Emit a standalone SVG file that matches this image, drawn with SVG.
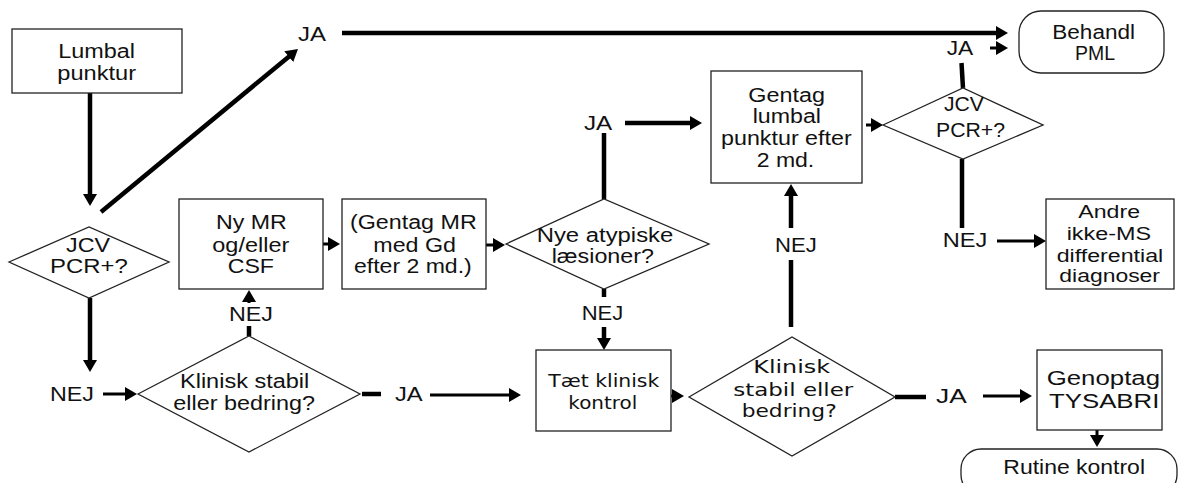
<svg xmlns="http://www.w3.org/2000/svg" width="1179" height="483" viewBox="0 0 1179 483">
<defs>
<style>
.box{fill:#fff;stroke:#222;stroke-width:1.3}
.t{font-family:"Liberation Sans",Arial,sans-serif;font-size:19.5px;fill:#111}
.sm{font-size:17.5px}
.d{font-family:"DejaVu Sans",Verdana,sans-serif;font-size:17.5px;fill:#111}
.c{stroke:#000;stroke-width:4.5;fill:none}
.s{stroke:#000;stroke-width:3;fill:none}
</style>
<marker id="ah" markerUnits="userSpaceOnUse" markerWidth="12" markerHeight="14" refX="2" refY="7" orient="auto">
<path d="M0,0 L12,7 L0,14 z" fill="#000"/>
</marker>
</defs>
<rect width="1179" height="483" fill="#fff"/>

<g id="connectors">
<line class="c" x1="90" y1="93" x2="90" y2="196" marker-end="url(#ah)"/>
<line class="c" x1="101" y1="212" x2="290.3" y2="55.4" marker-end="url(#ah)"/>
<line class="c" x1="342" y1="33" x2="998" y2="33" marker-end="url(#ah)"/>
<line class="c" x1="90" y1="298" x2="90" y2="362" marker-end="url(#ah)"/>
<line class="s" x1="103" y1="394" x2="127" y2="394" marker-end="url(#ah)"/>
<line class="c" x1="249" y1="336" x2="249" y2="326"/>
<line class="s" x1="249" y1="303" x2="249" y2="300" marker-end="url(#ah)"/>
<line class="s" x1="323" y1="244" x2="330" y2="244" marker-end="url(#ah)"/>
<line class="s" x1="486" y1="245" x2="495" y2="245" marker-end="url(#ah)"/>
<line class="c" x1="362" y1="394" x2="381" y2="394"/>
<line class="s" x1="430" y1="395" x2="511" y2="395" marker-end="url(#ah)"/>
<line class="c" x1="604" y1="199" x2="604" y2="133"/>
<line class="c" x1="625" y1="123" x2="692" y2="123" marker-end="url(#ah)"/>
<line class="c" x1="604" y1="289" x2="604" y2="297"/>
<line class="c" x1="604" y1="327" x2="604" y2="340" marker-end="url(#ah)"/>
<line class="s" x1="665" y1="396" x2="674" y2="396" marker-end="url(#ah)"/>
<line class="c" x1="791" y1="327" x2="791" y2="260"/>
<line class="c" x1="791" y1="228" x2="791" y2="194" marker-end="url(#ah)"/>
<line class="s" x1="866" y1="125" x2="873" y2="125" marker-end="url(#ah)"/>
<line class="c" x1="963" y1="88" x2="961.5" y2="63"/>
<line class="s" x1="990" y1="48" x2="998" y2="48" marker-end="url(#ah)"/>
<line class="c" x1="962" y1="159" x2="962" y2="228"/>
<line class="s" x1="997" y1="241" x2="1036" y2="241" marker-end="url(#ah)"/>
<line class="c" x1="895" y1="397" x2="926" y2="397"/>
<line class="s" x1="983" y1="396" x2="1022" y2="396" marker-end="url(#ah)"/>
<line class="s" x1="1097" y1="430" x2="1097" y2="437" marker-end="url(#ah)"/>
</g>

<g id="lumbal">
<rect class="box" x="12" y="29" width="170" height="64"/>
<text class="t" x="58.3" y="57.7" textLength="76.7" lengthAdjust="spacingAndGlyphs">Lumbal</text>
<text class="t" x="57.3" y="80" textLength="78.7" lengthAdjust="spacingAndGlyphs">punktur</text>
</g>

<g id="jcv1">
<polygon class="box" points="9,262 89,227 169,262 89,298"/>
<text class="t" x="66" y="251.5" textLength="44" lengthAdjust="spacingAndGlyphs">JCV</text>
<text class="t" x="50" y="273.3" textLength="77.7" lengthAdjust="spacingAndGlyphs">PCR+?</text>
</g>

<g id="lbl-ja1"><text class="t" x="298" y="41" textLength="28" lengthAdjust="spacingAndGlyphs">JA</text></g>
<g id="lbl-nej1"><text class="t" x="50" y="400.7" textLength="44" lengthAdjust="spacingAndGlyphs">NEJ</text></g>

<g id="klinisk1">
<polygon class="box" points="138,394 249,336 360,394 249,452"/>
<text class="t" x="180" y="388.3" textLength="129.3" lengthAdjust="spacingAndGlyphs">Klinisk stabil</text>
<text class="t" x="173.3" y="409.5" textLength="141.7" lengthAdjust="spacingAndGlyphs">eller bedring?</text>
</g>

<g id="lbl-nej2"><text class="t" x="229" y="320.7" textLength="44" lengthAdjust="spacingAndGlyphs">NEJ</text></g>
<g id="lbl-ja2"><text class="t" x="395" y="400.7" textLength="27.7" lengthAdjust="spacingAndGlyphs">JA</text></g>

<g id="nymr">
<rect class="box" x="179" y="199" width="144" height="90"/>
<text class="t" x="216" y="229.3" textLength="70.7" lengthAdjust="spacingAndGlyphs">Ny MR</text>
<text class="t" x="212.3" y="252.3" textLength="77" lengthAdjust="spacingAndGlyphs">og/eller</text>
<text class="t" x="227.7" y="273.3" textLength="46.3" lengthAdjust="spacingAndGlyphs">CSF</text>
</g>

<g id="gentagmr">
<rect class="box" x="342" y="199" width="144" height="90"/>
<text class="t" x="350" y="229" textLength="126.7" lengthAdjust="spacingAndGlyphs">(Gentag MR</text>
<text class="t" x="373.3" y="251.7" textLength="82.7" lengthAdjust="spacingAndGlyphs">med Gd</text>
<text class="t" x="354" y="273.3" textLength="117.7" lengthAdjust="spacingAndGlyphs">efter 2 md.)</text>
</g>

<g id="nye">
<polygon class="box" points="506,244 604,199 709,244 604,289"/>
<text class="t" x="536.7" y="241.7" textLength="136.6" lengthAdjust="spacingAndGlyphs">Nye atypiske</text>
<text class="t" x="551.7" y="263.3" textLength="102.3" lengthAdjust="spacingAndGlyphs">læsioner?</text>
</g>

<g id="lbl-ja3"><text class="t" x="584" y="130" textLength="28.3" lengthAdjust="spacingAndGlyphs">JA</text></g>
<g id="lbl-nej3"><text class="t" x="581.7" y="320" textLength="41.6" lengthAdjust="spacingAndGlyphs">NEJ</text></g>

<g id="taet">
<rect class="box" x="536" y="350" width="135" height="81"/>
<text class="d" x="548.3" y="387.3" textLength="111" lengthAdjust="spacingAndGlyphs">Tæt klinisk</text>
<text class="d" x="568.3" y="409" textLength="69" lengthAdjust="spacingAndGlyphs">kontrol</text>
</g>

<g id="klinisk2">
<polygon class="box" points="689,397 792,337 895,397 792,456"/>
<text class="d" x="753.3" y="373.3" textLength="76.7" lengthAdjust="spacingAndGlyphs">Klinisk</text>
<text class="d" x="733.3" y="396" textLength="120" lengthAdjust="spacingAndGlyphs">stabil eller</text>
<text class="d" x="741.7" y="416.7" textLength="95" lengthAdjust="spacingAndGlyphs">bedring?</text>
</g>

<g id="lbl-nej4"><text class="t" x="775" y="251.7" textLength="41.7" lengthAdjust="spacingAndGlyphs">NEJ</text></g>

<g id="gentaglp">
<rect class="box" x="711" y="71" width="151" height="112"/>
<text class="t" x="748.3" y="101.7" textLength="76.7" lengthAdjust="spacingAndGlyphs">Gentag</text>
<text class="t" x="752.7" y="123" textLength="68.3" lengthAdjust="spacingAndGlyphs">lumbal</text>
<text class="t" x="721" y="145" textLength="130.7" lengthAdjust="spacingAndGlyphs">punktur efter</text>
<text class="t" x="756.7" y="167" textLength="57.6" lengthAdjust="spacingAndGlyphs">2 md.</text>
</g>

<g id="jcv2">
<polygon class="box" points="883,125 963,88 1043,125 963,159"/>
<text class="t" x="944" y="111" textLength="40" lengthAdjust="spacingAndGlyphs">JCV</text>
<text class="t" x="936" y="136.7" textLength="69" lengthAdjust="spacingAndGlyphs">PCR+?</text>
</g>

<g id="lbl-ja4"><text class="t" x="946.7" y="55" textLength="26.6" lengthAdjust="spacingAndGlyphs">JA</text></g>
<g id="lbl-nej5"><text class="t" x="942.7" y="246.7" textLength="44.6" lengthAdjust="spacingAndGlyphs">NEJ</text></g>
<g id="lbl-ja5"><text class="t" x="936" y="403.3" textLength="30.7" lengthAdjust="spacingAndGlyphs">JA</text></g>

<g id="behandl">
<rect class="box" x="1019" y="11" width="145" height="62" rx="22" ry="22"/>
<text class="t" x="1052.3" y="39" textLength="82.7" lengthAdjust="spacingAndGlyphs">Behandl</text>
<text class="t" x="1075" y="60" textLength="40" lengthAdjust="spacingAndGlyphs">PML</text>
</g>

<g id="andre">
<rect class="box" x="1046" y="199" width="128" height="90"/>
<text class="t sm" x="1078.3" y="217.7" textLength="61.7" lengthAdjust="spacingAndGlyphs">Andre</text>
<text class="t sm" x="1066.7" y="240" textLength="84.3" lengthAdjust="spacingAndGlyphs">ikke-MS</text>
<text class="t sm" x="1056.7" y="261.5" textLength="106.6" lengthAdjust="spacingAndGlyphs">differential</text>
<text class="t sm" x="1059.3" y="282" textLength="100.7" lengthAdjust="spacingAndGlyphs">diagnoser</text>
</g>

<g id="genoptag">
<rect class="box" x="1037" y="350" width="125" height="80"/>
<text class="t" x="1046.7" y="385" textLength="113.3" lengthAdjust="spacingAndGlyphs">Genoptag</text>
<text class="t" x="1049" y="407.7" textLength="110.3" lengthAdjust="spacingAndGlyphs">TYSABRI</text>
</g>

<g id="rutine">
<rect class="box" x="961" y="449" width="216" height="46" rx="20" ry="20"/>
<text class="t" x="1003.3" y="474" textLength="141.7" lengthAdjust="spacingAndGlyphs">Rutine kontrol</text>
</g>
</svg>
